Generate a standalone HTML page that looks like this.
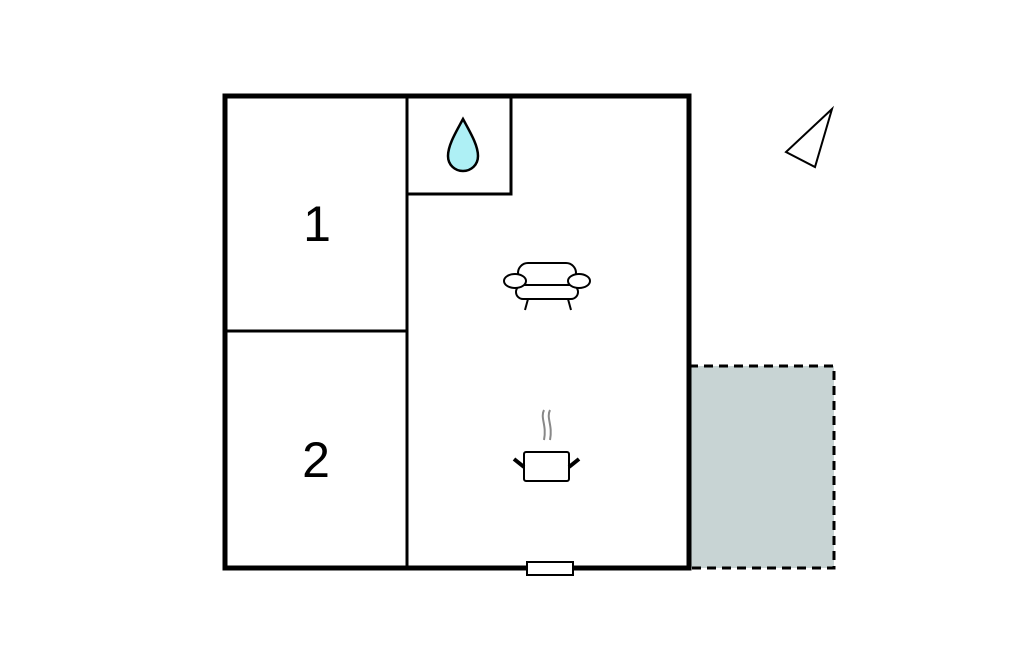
<!DOCTYPE html>
<html><head><style>html,body{margin:0;padding:0;background:#fff;}</style></head>
<body>
<svg width="1024" height="652" viewBox="0 0 1024 652" xmlns="http://www.w3.org/2000/svg">
<rect x="689" y="366" width="145" height="202" fill="#c8d4d4"/>
<path d="M689 366 H834 V568 H689" fill="none" stroke="#000" stroke-width="3" stroke-dasharray="9,6"/>
<rect x="225" y="96" width="464" height="472" fill="none" stroke="#000" stroke-width="5"/>
<line x1="407" y1="96" x2="407" y2="568" stroke="#000" stroke-width="3"/>
<line x1="227" y1="331" x2="407" y2="331" stroke="#000" stroke-width="3"/>
<polyline points="407,194 511,194 511,96" fill="none" stroke="#000" stroke-width="3"/>
<path d="M463 119 C470 132 478 145 478 156 C478 165 471 171 463 171 C455 171 448 165 448 156 C448 145 456 132 463 119 Z" fill="#aef0f5" stroke="#000" stroke-width="2.5"/>
<text x="317" y="241" font-family="Liberation Sans, sans-serif" font-size="50" text-anchor="middle">1</text>
<text x="316" y="477" font-family="Liberation Sans, sans-serif" font-size="50" text-anchor="middle">2</text>
<g fill="#fff" stroke="#000" stroke-width="2">
<rect x="518" y="263" width="58" height="22" rx="10"/>
<rect x="516" y="285" width="62" height="14" rx="7"/>
<ellipse cx="515" cy="281" rx="11" ry="7"/>
<ellipse cx="579" cy="281" rx="11" ry="7"/>
<line x1="528" y1="299" x2="525" y2="310"/>
<line x1="568" y1="299" x2="571" y2="310"/>
</g>
<path d="M544 410 C540 418 547 425 544 440 M550 410 C546 418 553 425 550 440" fill="none" stroke="#888" stroke-width="2"/>
<rect x="524" y="452" width="45" height="29" rx="2" fill="#fff" stroke="#000" stroke-width="2"/>
<line x1="514" y1="459" x2="524" y2="467" stroke="#000" stroke-width="4"/>
<line x1="579" y1="459" x2="569" y2="467" stroke="#000" stroke-width="4"/>
<rect x="527" y="562" width="46" height="13" fill="#fff" stroke="#000" stroke-width="2"/>
<polygon points="832,109 786,152 815,167" fill="#fff" stroke="#000" stroke-width="2"/>
</svg>
</body></html>
